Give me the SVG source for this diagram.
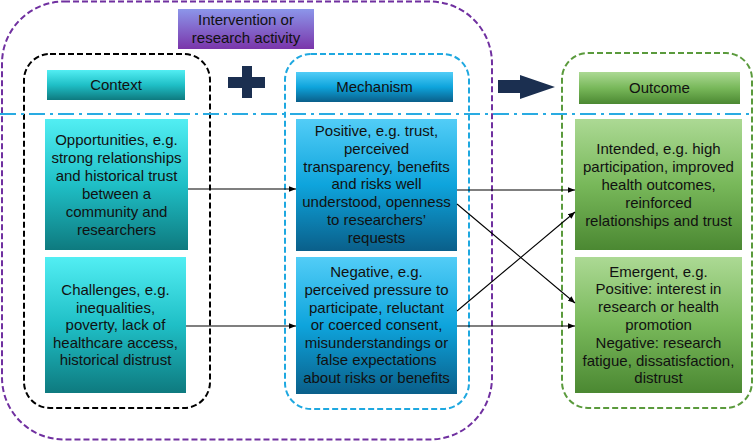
<svg xmlns="http://www.w3.org/2000/svg" width="754" height="442" viewBox="0 0 754 442">
<defs>
<linearGradient id="gTeal" x1="0" y1="0" x2="0" y2="1"><stop offset="0" stop-color="#52eef3"/><stop offset="0.5" stop-color="#1fbfc6"/><stop offset="1" stop-color="#0e7a7f"/></linearGradient>
<linearGradient id="gBlue" x1="0" y1="0" x2="0" y2="1"><stop offset="0" stop-color="#52cdf7"/><stop offset="0.5" stop-color="#0ea4dc"/><stop offset="1" stop-color="#0a5f8a"/></linearGradient>
<linearGradient id="gGreen" x1="0" y1="0" x2="0" y2="1"><stop offset="0" stop-color="#acd994"/><stop offset="0.5" stop-color="#78b85a"/><stop offset="1" stop-color="#4b8832"/></linearGradient>
<linearGradient id="gPurple" x1="0" y1="0" x2="0" y2="1"><stop offset="0" stop-color="#8c96ea"/><stop offset="1" stop-color="#7a35aa"/></linearGradient>
<marker id="arr" viewBox="0 0 10 10" refX="10" refY="5" markerWidth="7" markerHeight="7" orient="auto" markerUnits="userSpaceOnUse"><path d="M0,1 L10,5 L0,9 Z" fill="#000"/></marker>
</defs>
<style>
text{font-family:"Liberation Sans",Arial,sans-serif;font-size:15px;fill:#111;text-anchor:middle}
.dash{fill:none;stroke-width:2;stroke-dasharray:6,3}
.conn line{stroke:#000;stroke-width:1.1;marker-end:url(#arr)}
</style>
<rect width="754" height="442" fill="#fff"/>
<g id="intervention-group">
<rect class="dash" x="2" y="1.5" width="490" height="438" rx="62" stroke="#7030a0"/>
</g>
<g id="context-group"><rect class="dash" x="24" y="54" width="186" height="354" rx="26" stroke="#000"/></g>
<g id="mechanism-group"><rect class="dash" x="285" y="54" width="184" height="355" rx="26" stroke="#1ea8e0"/></g>
<g id="outcome-group"><rect class="dash" x="562" y="53" width="190" height="355" rx="26" stroke="#5a9a3c"/></g>
<line x1="0" y1="114" x2="752" y2="114" stroke="#29abe2" stroke-width="2" stroke-dasharray="16,5,3,5"/>
<g id="intervention-label">
<rect x="178" y="9" width="136" height="40" fill="url(#gPurple)"/>
<text x="246" y="25">Intervention or</text>
<text x="246" y="43">research activity</text>
</g>
<g id="plus"><path d="M242,66 H252 V77 H265 V88 H252 V98 H242 V88 H228 V77 H242 Z" fill="#1b2f50"/></g>
<g id="big-arrow"><path d="M498,80 H520 V75 L555,87 L520,99 V93 H498 Z" fill="#1b2f50"/></g>
<g id="context-header"><rect x="47" y="70" width="138" height="30" fill="url(#gTeal)"/><text x="116" y="90">Context</text></g>
<g id="mechanism-header"><rect x="296" y="72" width="157" height="30" fill="url(#gBlue)"/><text x="374.5" y="92">Mechanism</text></g>
<g id="outcome-header"><rect x="579" y="72" width="161" height="32" fill="url(#gGreen)"/><text x="659.5" y="93">Outcome</text></g>
<g id="context-opportunities">
<rect x="45" y="119" width="143" height="131" fill="url(#gTeal)"/>
<text x="116.5" y="145">Opportunities, e.g.</text>
<text x="116.5" y="163">strong relationships</text>
<text x="116.5" y="181">and historical trust</text>
<text x="116.5" y="199">between a</text>
<text x="116.5" y="217">community and</text>
<text x="116.5" y="235">researchers</text>
</g>
<g id="context-challenges">
<rect x="45" y="257" width="141" height="136" fill="url(#gTeal)"/>
<text x="115.5" y="295">Challenges, e.g.</text>
<text x="115.5" y="313">inequalities,</text>
<text x="115.5" y="330">poverty, lack of</text>
<text x="115.5" y="348">healthcare access,</text>
<text x="115.5" y="365">historical distrust</text>
</g>
<g id="mechanism-positive">
<rect x="296" y="119" width="161" height="132" fill="url(#gBlue)"/>
<text x="376.5" y="136">Positive, e.g. trust,</text>
<text x="376.5" y="154">perceived</text>
<text x="376.5" y="172">transparency, benefits</text>
<text x="376.5" y="189">and risks well</text>
<text x="376.5" y="207">understood, openness</text>
<text x="376.5" y="225">to researchers’</text>
<text x="376.5" y="243">requests</text>
</g>
<g id="mechanism-negative">
<rect x="296" y="257" width="161" height="137" fill="url(#gBlue)"/>
<text x="376.5" y="277">Negative, e.g.</text>
<text x="376.5" y="295">perceived pressure to</text>
<text x="376.5" y="313">participate, reluctant</text>
<text x="376.5" y="330">or coerced consent,</text>
<text x="376.5" y="348">misunderstandings or</text>
<text x="376.5" y="365">false expectations</text>
<text x="376.5" y="383">about risks or benefits</text>
</g>
<g id="outcome-intended">
<rect x="575" y="119" width="167" height="131" fill="url(#gGreen)"/>
<text x="658.5" y="154">Intended, e.g. high</text>
<text x="658.5" y="172">participation, improved</text>
<text x="658.5" y="190">health outcomes,</text>
<text x="658.5" y="208">reinforced</text>
<text x="658.5" y="226">relationships and trust</text>
</g>
<g id="outcome-emergent">
<rect x="575" y="257" width="167" height="136" fill="url(#gGreen)"/>
<text x="658.5" y="277">Emergent, e.g.</text>
<text x="658.5" y="294">Positive: interest in</text>
<text x="658.5" y="312">research or health</text>
<text x="658.5" y="330">promotion</text>
<text x="658.5" y="348">Negative: research</text>
<text x="658.5" y="366">fatigue, dissatisfaction,</text>
<text x="658.5" y="383">distrust</text>
</g>
<g id="connectors" class="conn">
<line x1="188" y1="189" x2="296" y2="189"/>
<line x1="186" y1="326" x2="296" y2="326"/>
<line x1="457" y1="190" x2="575" y2="190"/>
<line x1="457" y1="204" x2="575" y2="303"/>
<line x1="457" y1="311" x2="575" y2="212"/>
<line x1="457" y1="326" x2="575" y2="326"/>
</g>
</svg>
